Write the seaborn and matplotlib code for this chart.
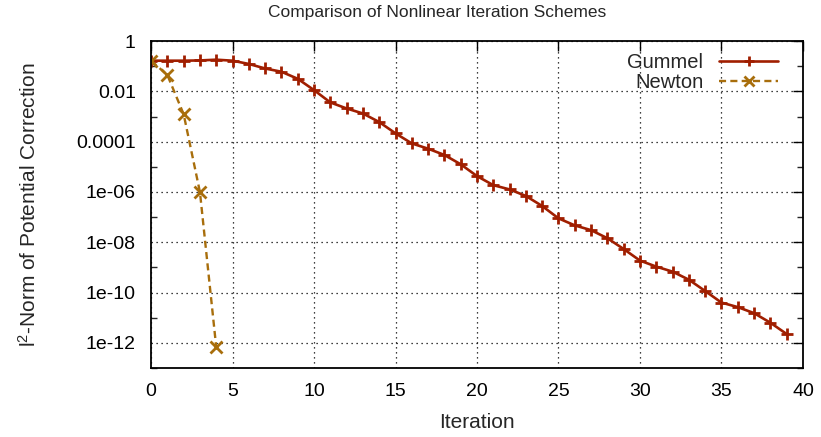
import numpy as np
import pandas as pd
import matplotlib
matplotlib.use("Agg")
import matplotlib.pyplot as plt
import matplotlib.ticker as mticker
import seaborn as sns

# ---- data ----
gummel_iter = list(range(40))
gummel_log10 = [-0.78, -0.78, -0.78, -0.77, -0.74, -0.78, -0.91, -1.09, -1.22, -1.50,
                -1.95, -2.44, -2.68, -2.88, -3.22, -3.67, -4.07, -4.28, -4.53, -4.90,
                -5.37, -5.73, -5.90, -6.16, -6.56, -7.05, -7.33, -7.52, -7.84, -8.27,
                -8.73, -8.97, -9.17, -9.49, -9.94, -10.40, -10.58, -10.82, -11.20, -11.65]
newton_iter = [0, 1, 2, 3, 4]
newton_log10 = [-0.78, -1.35, -2.91, -6.01, -12.18]

ytick_vals = [1, 1e-2, 1e-4, 1e-6, 1e-8, 1e-10, 1e-12]
ytick_labels = ["1", "0.01", "0.0001", "1e-06", "1e-08", "1e-10", "1e-12"]
xtick_vals = [0, 5, 10, 15, 20, 25, 30, 35, 40]

df = pd.concat([
    pd.DataFrame({"Iteration": gummel_iter, "val": 10.0 ** np.array(gummel_log10), "Scheme": "Gummel"}),
    pd.DataFrame({"Iteration": newton_iter, "val": 10.0 ** np.array(newton_log10), "Scheme": "Newton"}),
])

sns.set_theme(style="white")
plt.rcParams["font.family"] = ["Liberation Sans", "DejaVu Sans"]
plt.rcParams["mathtext.fontset"] = "custom"
plt.rcParams["mathtext.rm"] = "Liberation Sans"
plt.rcParams["mathtext.it"] = "Liberation Sans"

fig = plt.figure(figsize=(8.21, 4.37), dpi=100)
ax = fig.add_axes([0.184, 0.158, 0.794, 0.748])

c_g = "#a01e00"
c_n = "#a86e0c"
g = df[df.Scheme == "Gummel"]
n = df[df.Scheme == "Newton"]
sns.lineplot(data=g, x="Iteration", y="val", ax=ax, color=c_g, lw=1.9,
             marker="+", markersize=9, markeredgewidth=2.0, markeredgecolor=c_g,
             markerfacecolor=c_g, label="Gummel")
sns.lineplot(data=n, x="Iteration", y="val", ax=ax, color=c_n, lw=1.7,
             linestyle=(0, (3.0, 1.8)), marker="x", markersize=8.5, markeredgewidth=2.0,
             markeredgecolor=c_n, markerfacecolor=c_n, label="Newton")

ax.set_yscale("log")
ax.set_xlim(0, 40)
ax.set_ylim(1e-13, 1)
ax.set_xticks(xtick_vals)
ax.set_xticklabels([str(v) for v in xtick_vals])
ax.set_yticks(ytick_vals)
ax.set_yticklabels(ytick_labels)
ax.yaxis.set_minor_locator(mticker.FixedLocator([10.0 ** -k for k in range(1, 14, 2)]))
ax.yaxis.set_minor_formatter(mticker.NullFormatter())

ax.tick_params(axis="both", which="major", direction="in", length=7, width=1,
               top=True, right=True, labelsize=14, colors="black", pad=11)
ax.tick_params(axis="y", which="minor", direction="in", length=4, width=1,
               left=True, right=True)
ax.grid(True, which="major", color="black", linestyle=(0, (1, 3)), linewidth=0.9)
for s in ax.spines.values():
    s.set_color("black")
    s.set_linewidth(1.3)

fig.text(437 / 821, 1 - 13 / 437, "Comparison of Nonlinear Iteration Schemes",
         fontsize=12.5, ha="center", va="center")
ax.set_xlabel("Iteration", fontsize=15, labelpad=9.5)
ax.set_ylabel(r"l$^{2}$-Norm of Potential Correction", fontsize=15, labelpad=26)

leg = ax.legend(loc="upper right", bbox_to_anchor=(0.98, 1.0), markerfirst=False,
                frameon=False, fontsize=14.5, handlelength=2.9, borderaxespad=0.2,
                labelspacing=0.05, handletextpad=0.8, borderpad=0.4, markerscale=0.85)

fig.savefig("out.png", dpi=100)
